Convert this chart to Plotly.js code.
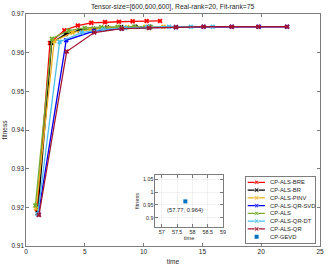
<!DOCTYPE html>
<html><head><meta charset="utf-8">
<script src="https://cdn.plot.ly/plotly-3.0.1.min.js"></script>
<style>html,body{margin:0;padding:0;background:#fff}#c{width:332px;height:266px}</style>
</head><body><div id="c"></div>
<script>
var names = ["CP-ALS-BRE","CP-ALS-BR","CP-ALS-PINV","CP-ALS-QR-SVD","CP-ALS","CP-ALS-QR-DT","CP-ALS-QR","CP-GEVD"];
var colors = ["#FF0000","#000000","#EDB120","#0000FF","#77AC30","#4DBEEE","#A2142F","#0072BD"];

var tBRE = [0.95,2.04,3.26,4.40,5.55,6.72,7.9,9.07,10.26,11.4];
var fBRE = [0.9195,0.9625,0.9658,0.9670,0.9677,0.9679,0.9680,0.9681,0.9682,0.9682];
var tBR = [1.0,2.18,3.37,4.55,5.73,6.9,8.1,9.3,10.5];
var fBR = [0.9185,0.9625,0.9648,0.9658,0.9662,0.9665,0.9666,0.9667,0.9667];
var tPINV = [0.85,2.4,3.95,5.5,7.05,8.6,10.15,11.7];
var fPINV = [0.9197,0.9630,0.9652,0.9660,0.9664,0.9666,0.9667,0.9667];
var tQRSVD = [1.05,3.42,5.78,8.14,10.5,12.75,15.1,17.5,19.8,22.2];
var fQRSVD = [0.9182,0.9632,0.9656,0.9662,0.9665,0.9666,0.9667,0.9667,0.9667,0.9667];
var tALS = [0.8,2.2,3.6,5.0,6.4,7.8,9.2,10.6];
var fALS = [0.9205,0.9636,0.9657,0.9664,0.9666,0.9667,0.9667,0.9667];
var tQRDT = [1.0,2.86,4.72,6.58,8.44,10.3,12.16,14.02,15.88];
var fQRDT = [0.9182,0.9628,0.9652,0.9660,0.9664,0.9666,0.9667,0.9667,0.9667];
var tQR = [1.1,3.46,5.8,8.14,10.46,12.75,15.1,17.5,19.75,22.2];
var fQR = [0.9180,0.9603,0.9652,0.9662,0.9664,0.9666,0.9667,0.9667,0.9667,0.9667];
var tGEVD = [57.77];
var fGEVD = [0.964];

var series = [[tBRE,fBRE],[tBR,fBR],[tPINV,fPINV],[tQRSVD,fQRSVD],[tALS,fALS],[tQRDT,fQRDT],[tQR,fQR]];
var FONT = "Liberation Sans, Arial, sans-serif";
var TXT = "#262626";
var data = [];
series.forEach(function(s,i){
  data.push({x:s[0], y:s[1], type:"scatter", mode:"lines+markers", name:names[i],
    line:{color:colors[i], width:1.3}, marker:{symbol:"x", size:4.5, color:colors[i]},
    xaxis:"x", yaxis:"y", showlegend:false, hoverinfo:"skip"});
});
data.push({x:tGEVD, y:fGEVD, type:"scatter", mode:"markers", name:names[7],
  marker:{symbol:"square", size:4, color:colors[7]}, xaxis:"x2", yaxis:"y2", showlegend:false});

// custom compact legend on a helper axis
var annotations = [];
names.forEach(function(n,i){
  if (i < 7) {
    data.push({x:[0.03,0.157,0.276], y:[i,i,i], type:"scatter", mode:"lines+markers",
      line:{color:colors[i], width:1.3}, marker:{symbol:"x", size:[0,4.5,0], color:colors[i]},
      xaxis:"x3", yaxis:"y3", showlegend:false, hoverinfo:"skip"});
  } else {
    data.push({x:[0.157], y:[i], type:"scatter", mode:"markers",
      marker:{symbol:"square", size:4, color:colors[i]},
      xaxis:"x3", yaxis:"y3", showlegend:false, hoverinfo:"skip"});
  }
  annotations.push({x:0.32, y:i, xref:"x3", yref:"y3", text:n, showarrow:false,
    xanchor:"left", yanchor:"middle", font:{family:FONT, size:5.8, color:TXT}});
});
annotations.push({x:tGEVD[0], y:fGEVD[0], xref:"x2", yref:"y2", text:"(" + tGEVD[0] + ", " + fGEVD[0] + ")",
  showarrow:false, yanchor:"top", yshift:-4, font:{family:FONT, size:5.8, color:TXT}});

var axBase = {showline:true, linecolor:"#262626", linewidth:0.6, mirror:"ticks", ticks:"inside",
  ticklen:3, tickwidth:0.6, tickcolor:"#262626", zeroline:false, showgrid:false,
  tickfont:{family:FONT, size:6.5, color:TXT}};

var layout = {
  width:332, height:266, margin:{l:26, r:12, t:14, b:20},
  paper_bgcolor:"#fff", plot_bgcolor:"#fff",
  title:{text:"Tensor-size=[600,600,600], Real-rank=20, Fit-rank=75", x:0.52, xanchor:"center", y:0.985, yanchor:"top",
    font:{family:FONT, size:6.8, color:"#262626"}},
  xaxis:Object.assign({}, axBase, {range:[0,25], dtick:5, tick0:0, domain:[0,1], anchor:"y",
    title:{text:"time", font:{family:FONT, size:6.5, color:TXT}, standoff:4}}),
  yaxis:Object.assign({}, axBase, {range:[0.91,0.97], dtick:0.01, tick0:0.91, tickformat:".2f", domain:[0,1], anchor:"x",
    title:{text:"fitness", font:{family:FONT, size:6.5, color:TXT}, standoff:2}}),
  xaxis2:Object.assign({}, axBase, {range:[56.78,59], dtick:0.5, tick0:57, domain:[0.439,0.670], anchor:"y2",
    showgrid:true, gridcolor:"#e6e6e6", gridwidth:0.5, tickfont:{family:FONT, size:5.3, color:TXT},
    title:{text:"time", font:{family:FONT, size:5.5, color:TXT}, standoff:2}}),
  yaxis2:Object.assign({}, axBase, {range:[0.864,1.067], dtick:0.05, tick0:0.9, domain:[0.082,0.306], anchor:"x2",
    showgrid:true, gridcolor:"#e6e6e6", gridwidth:0.5, tickfont:{family:FONT, size:5.3, color:TXT},
    title:{text:"fitness", font:{family:FONT, size:5.5, color:TXT}, standoff:2}}),
  xaxis3:{domain:[0.747,0.985], range:[0,1], anchor:"y3", showline:true, mirror:true, linecolor:"#262626", linewidth:0.6,
    ticks:"", showticklabels:false, showgrid:false, zeroline:false, fixedrange:true},
  yaxis3:{domain:[0.0116,0.2987], range:[7.85,-0.72], anchor:"x3", showline:true, mirror:true, linecolor:"#262626", linewidth:0.6,
    ticks:"", showticklabels:false, showgrid:false, zeroline:false, fixedrange:true},
  annotations:annotations,
  showlegend:false
};
Plotly.newPlot("c", data, layout, {displayModeBar:false, staticPlot:true});
</script>
</body></html>
